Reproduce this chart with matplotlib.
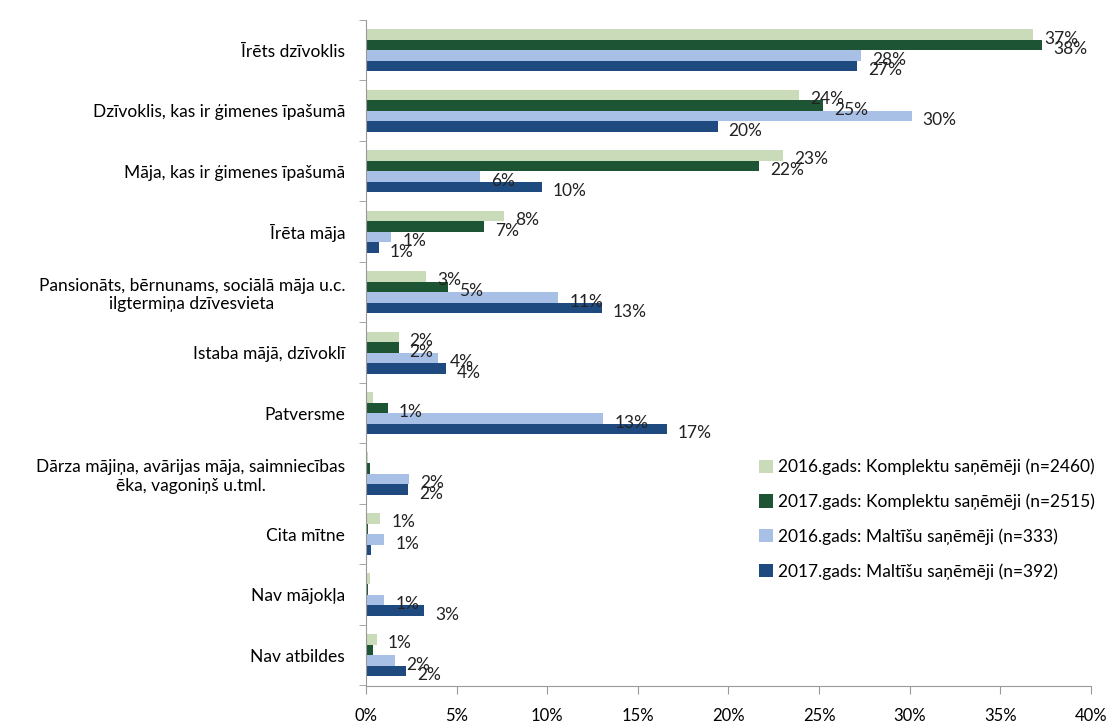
import numpy as np
import matplotlib.pyplot as plt

plt.rcParams['font.family'] = ['Lato', 'DejaVu Sans']

categories = [
    "Īrēts dzīvoklis",
    "Dzīvoklis, kas ir ģimenes īpašumā",
    "Māja, kas ir ģimenes īpašumā",
    "Īrēta māja",
    "Pansionāts, bērnunams, sociālā māja u.c.\nilgtermiņa dzīvesvieta",
    "Istaba mājā, dzīvoklī",
    "Patversme",
    "Dārza mājiņa, avārijas māja, saimniecības\nēka, vagoniņš u.tml.",
    "Cita mītne",
    "Nav mājokļa",
    "Nav atbildes",
]

series_names = [
    "2016.gads: Komplektu saņēmēji (n=2460)",
    "2017.gads: Komplektu saņēmēji (n=2515)",
    "2016.gads: Maltīšu saņēmēji (n=333)",
    "2017.gads: Maltīšu saņēmēji (n=392)",
]

komplekti_2016 = [36.8, 23.9, 23.0, 7.6, 3.3, 1.8, 0.4, 0.1, 0.8, 0.2, 0.6]
komplekti_2017 = [37.3, 25.2, 21.7, 6.5, 4.5, 1.8, 1.2, 0.2, 0.1, 0.1, 0.4]
maltites_2016 = [27.3, 30.1, 6.3, 1.4, 10.6, 4.0, 13.1, 2.4, 1.0, 1.0, 1.6]
maltites_2017 = [27.1, 19.4, 9.7, 0.7, 13.0, 4.4, 16.6, 2.3, 0.3, 3.2, 2.2]

labels_k2016 = ["37%", "24%", "23%", "8%", "3%", "2%", "", "", "1%", "", "1%"]
labels_k2017 = ["38%", "25%", "22%", "7%", "5%", "2%", "1%", "", "", "", ""]
labels_m2016 = ["28%", "30%", "6%", "1%", "11%", "4%", "13%", "2%", "1%", "1%", "2%"]
labels_m2017 = ["27%", "20%", "10%", "1%", "13%", "4%", "17%", "2%", "", "3%", "2%"]

colors = ["#c9dbb9", "#1d5534", "#a8c0e6", "#1f4a80"]

values = [komplekti_2016, komplekti_2017, maltites_2016, maltites_2017]
labels = [labels_k2016, labels_k2017, labels_m2016, labels_m2017]

fig = plt.figure(figsize=(11.13, 7.24), dpi=100)
ax = fig.add_axes([0.3288, 0.0525, 0.6514, 0.9199])

y = np.arange(len(categories))
h = 0.175
for i in range(4):
    pos = y + (i - 1.5) * h
    ax.barh(pos, values[i], height=h, color=colors[i], label=series_names[i])
    for p, v, t in zip(pos, values[i], labels[i]):
        if t:
            ax.annotate(t, (v, p), xytext=(8, -3), textcoords='offset points',
                        va='center', ha='left', fontsize=12.5, color='#222222')

ax.set_xlim(0, 40)
ax.set_ylim(len(categories) - 0.49, -0.46)
ax.set_xticks(np.arange(0, 41, 5))
ax.set_xticklabels([f"{t}%" for t in range(0, 41, 5)], fontsize=12)
ax.set_yticks(y)
ax.set_yticklabels(categories, fontsize=12.5, multialignment='center')
ax.set_yticks(np.arange(len(categories) + 1) - 0.5, minor=True)
ax.tick_params(axis='y', which='major', length=0, pad=15)
ax.tick_params(axis='y', which='minor', length=5, color='#999999')
ax.tick_params(axis='x', length=6, color='#999999', pad=10)

for s in ['top', 'right']:
    ax.spines[s].set_visible(False)
ax.spines['left'].set_color('#999999')
ax.spines['bottom'].set_color('#999999')

fig.legend(loc='upper left', bbox_to_anchor=(0.668, 0.388), frameon=False,
           fontsize=12.5, handlelength=0.8, handleheight=0.8, handletextpad=0.3,
           labelspacing=1.05)

fig.savefig("out.png", dpi=100)
